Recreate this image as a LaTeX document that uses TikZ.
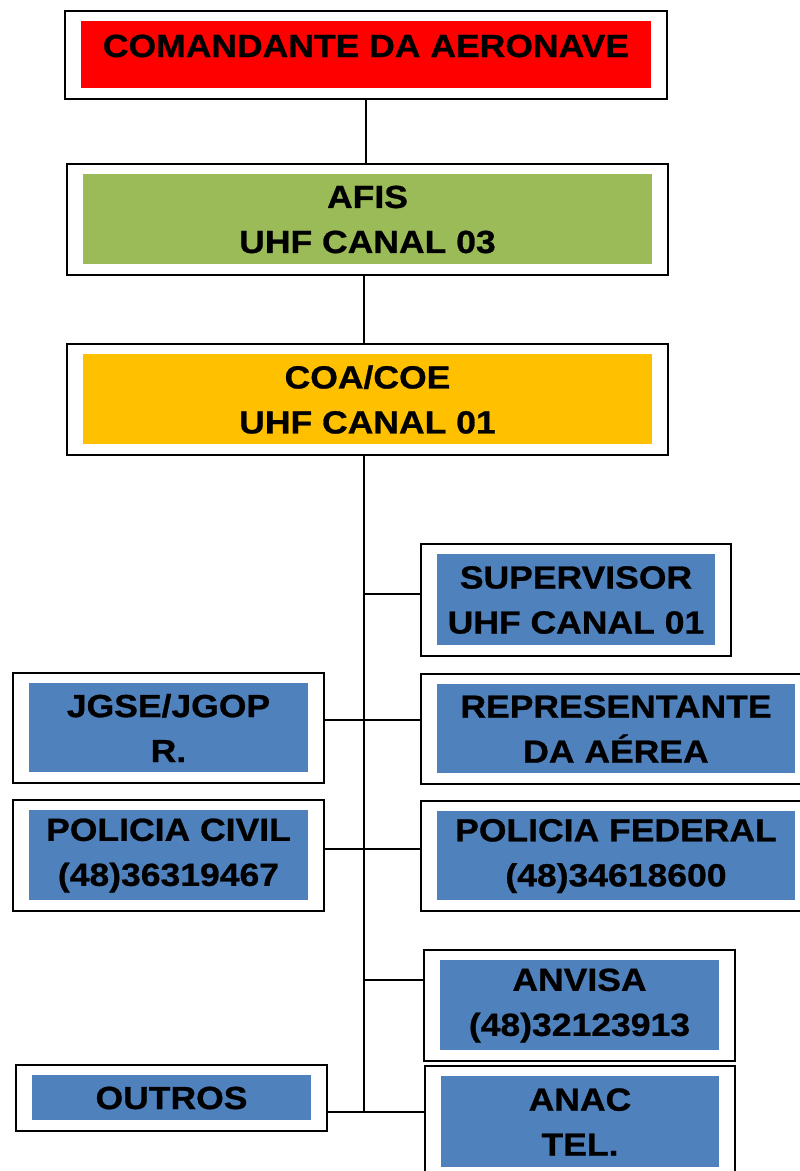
\documentclass[tikz,border=0pt]{standalone}
\usepackage{fontspec}
\usepackage{tikz}
\usepackage{xcolor}
\setmainfont{Liberation Sans}[FakeStretch=1.11, BoldFeatures={FakeBold=0.8}]
\definecolor{cmdred}{HTML}{FF0000}
\definecolor{afisgreen}{HTML}{9BBB59}
\definecolor{coaorange}{HTML}{FFC000}
\definecolor{unitblue}{HTML}{4F81BD}
\tikzstyle{frame}=[rectangle, draw=black, line width=2pt, fill=white, align=center, inner sep=0pt, font=\fontsize{32}{45}\selectfont\bfseries]
\tikzset{inset/.style={path picture={\fill[#1] ([shift={(16pt,-10pt)}]path picture bounding box.north west) rectangle ([shift={(-16pt,11pt)}]path picture bounding box.south east);}}}
\tikzstyle{wide}=[frame, minimum width=601pt, minimum height=111pt]
\tikzstyle{unit}=[frame, inset=unitblue, minimum width=311pt, minimum height=111pt]
\tikzstyle{link}=[line width=1.5pt]

\begin{document}
\begin{tikzpicture}[x=1pt, y=-1pt]
    \path[use as bounding box, clip] (0, 0) rectangle (800, 1171);

    \draw node at (366, 55) [frame, inset=cmdred, minimum width=602pt, text height=46pt, text depth=42pt] (cmd) {COMANDANTE DA AERONAVE};
    \draw node at (367.5, 219.5) [wide, inset=afisgreen] (afis) {AFIS\\UHF CANAL 03};
    \draw node at (367.5, 399.5) [wide, inset=coaorange] (coa) {COA/COE\\UHF CANAL 01};

    \draw node at (576, 600) [unit, minimum width=310pt, minimum height=112pt] (sup) {SUPERVISOR\\UHF CANAL 01};
    \draw node at (168.5, 728) [unit, minimum height=110pt] (jgse) {JGSE/JGOP\\R.};
    \draw node at (616, 729) [unit, minimum width=390pt, minimum height=110pt] (rep) {REPRESENTANTE\\DA AÉREA};
    \draw node at (168.5, 855.5) [unit] (pcivil) {POLICIA CIVIL\\(48)36319467};
    \draw node at (616, 856) [unit, minimum width=390pt, minimum height=110pt] (pfed) {POLICIA FEDERAL\\(48)34618600};
    \draw node at (579.5, 1005.5) [unit] (anvisa) {ANVISA\\(48)32123913};
    \draw node at (171.5, 1098) [unit, minimum height=66pt] (outros) {OUTROS};
    \draw node at (580, 1122) [unit, minimum width=310pt, minimum height=112pt] (anac) {ANAC\\TEL.};

    % points on the trunk
    \coordinate (top) at (364, 455);
    \coordinate (b1) at (364, 594);
    \coordinate (b2) at (364, 720);
    \coordinate (b3) at (364, 849);
    \coordinate (b4) at (364, 980);
    \coordinate (b5) at (364, 1112);

    \draw [link] (cmd.south) -- (cmd.south |- afis.north);
    \draw [link] (top |- afis.south) -- (top |- coa.north);
    \draw [link] (top) -- (b5);
    \draw [link] (b1) -- (b1 -| sup.west);
    \draw [link] (b2 -| jgse.east) -- (b2 -| rep.west);
    \draw [link] (b3 -| pcivil.east) -- (b3 -| pfed.west);
    \draw [link] (b4) -- (b4 -| anvisa.west);
    \draw [link] (b5 -| outros.east) -- (b5 -| anac.west);
\end{tikzpicture}
\end{document}
